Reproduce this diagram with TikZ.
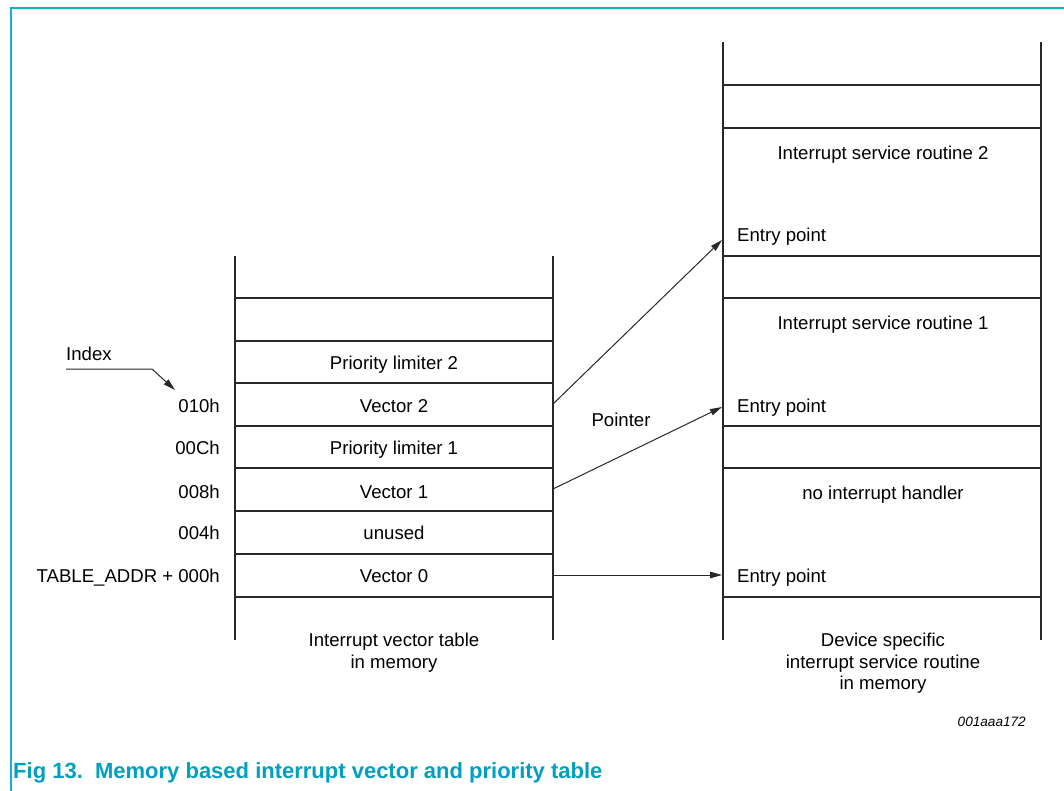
\documentclass[tikz,border=0pt]{standalone}
\usepackage{fontspec}
\setmainfont{Liberation Sans}
\usetikzlibrary{arrows.meta}
\definecolor{nxpborder}{RGB}{20,178,200}
\definecolor{nxpcap}{RGB}{0,160,190}
\definecolor{ink}{RGB}{40,40,40}
\begin{document}
\begin{tikzpicture}[x=1pt,y=-1pt,
  grid/.style={draw=ink,line width=1.2pt},
  lbl/.style={inner sep=0pt,font=\fontsize{18.6}{22}\selectfont,text height=13.5pt,text depth=3.5pt},
  mlbl/.style={inner sep=0pt,font=\fontsize{18.6}{21.5}\selectfont,align=center,anchor=north},
  ptr/.style={draw=ink,line width=1pt,-{Triangle[length=12pt,width=6.5pt]}}]
\useasboundingbox (0,0) rectangle (1064,791);
\draw[nxpborder,line width=1.6pt] (11,791) -- (11,8) -- (1064,8);
% left table
\draw[grid] (235,256) -- (235,640);
\draw[grid] (553,256) -- (553,640);
\foreach \yy in {298,341,383,426,468,511,554,597}
  \draw[grid] (235,\yy) -- (553,\yy);
% right table
\draw[grid] (723,42) -- (723,640);
\draw[grid] (1041,42) -- (1041,640);
\foreach \yy in {85,128,256,298,426,468,597}
  \draw[grid] (723,\yy) -- (1041,\yy);
% left texts
\node[lbl] (pl2) at (394,364) {Priority limiter 2};
\node[lbl] (v2) at (394,407) {Vector 2};
\node[lbl] (pl1) at (394,449) {Priority limiter 1};
\node[lbl] (v1) at (394,493) {Vector 1};
\node[lbl] (un) at (394,534) {unused};
\node[lbl] (v0) at (394,577) {Vector 0};
\node[lbl,anchor=east] (a10) at (220,407) {010h};
\node[lbl,anchor=east] (a0c) at (220,449) {00Ch};
\node[lbl,anchor=east] (a08) at (220,493) {008h};
\node[lbl,anchor=east] (a04) at (220,534) {004h};
\node[lbl,anchor=east] (a00) at (220,577) {TABLE\_ADDR + 000h};
\node[lbl,anchor=west] (idx) at (66,355) {Index};
\node[mlbl] (ivt) at (394,633) {Interrupt vector table\\in memory};
% right texts
\node[lbl] (isr2) at (883,155) {Interrupt service routine 2};
\node[lbl,anchor=west] (ep2) at (737,237) {Entry point};
\node[lbl] (isr1) at (883,324) {Interrupt service routine 1};
\node[lbl,anchor=west] (ep1) at (737,407) {Entry point};
\node[lbl] (nih) at (883,494) {no interrupt handler};
\node[lbl,anchor=west] (ep0) at (737,577) {Entry point};
\node[mlbl] (dsr) at (883,633) {Device specific\\interrupt service routine\\in memory};
\node[lbl] (ptrl) at (621,421) {Pointer};
% connectors
\coordinate (s2) at (553,404);
\coordinate (s1) at (553,489);
\coordinate (s0) at (553,575);
\coordinate (t2) at (722,240);
\coordinate (t1) at (722,407);
\coordinate (t0) at (722,575);
\draw[ptr] (s2) -- (t2);
\draw[ptr] (s1) -- (t1);
\draw[ptr] (s0) -- (t0);
\coordinate (i0) at (66,369);
\coordinate (i1) at (152,369);
\coordinate (i2) at (175,390);
\draw[ptr] (i0) -- (i1) -- (i2);
% id and caption
\node[inner sep=0pt,anchor=east,font=\fontsize{13.6}{16}\selectfont\itshape] (fid) at (1026,722) {001aaa172};
\node[inner sep=0pt,anchor=west,text=nxpcap,font=\fontsize{22}{26}\selectfont\bfseries] (cap) at (13,773) {Fig 13.\ \ Memory based interrupt vector and priority table};
\end{tikzpicture}
\end{document}
